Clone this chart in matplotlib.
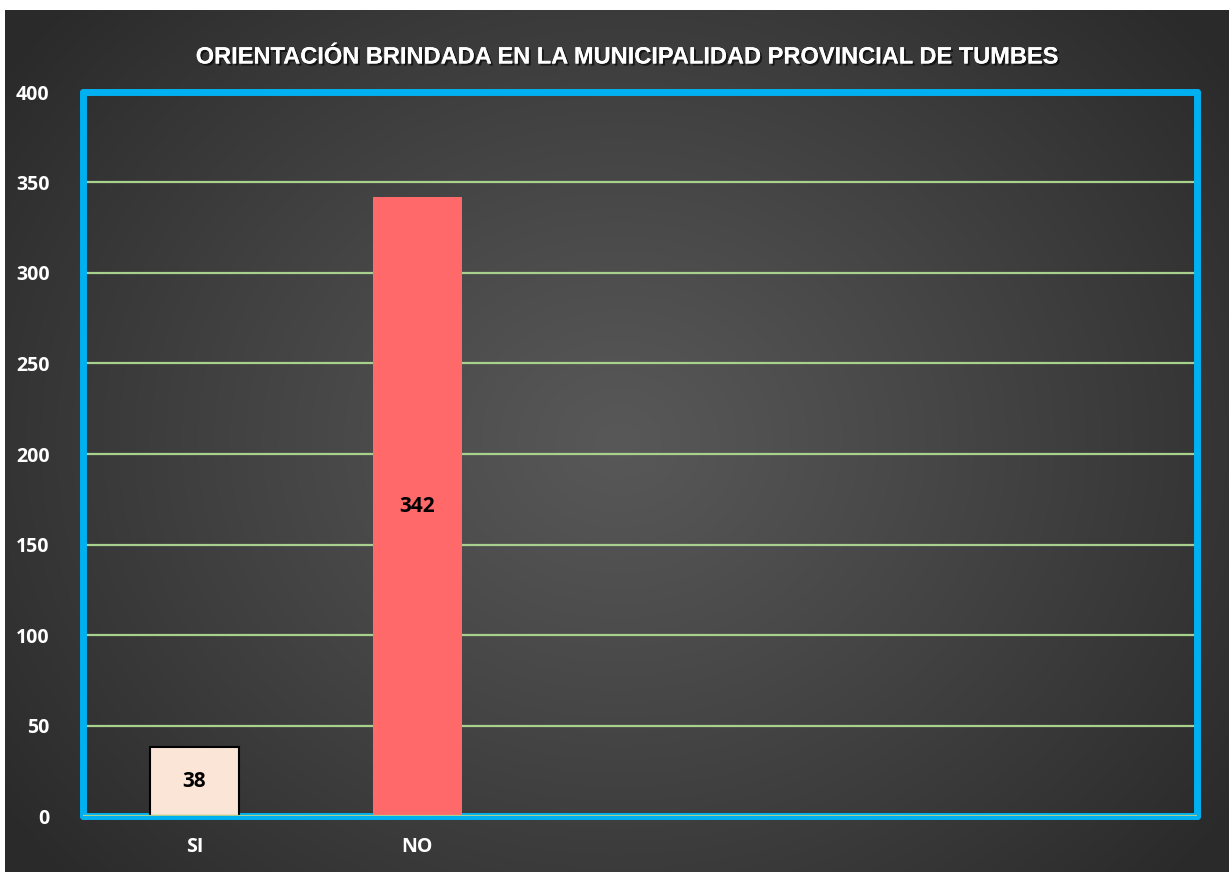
import numpy as np
import matplotlib
matplotlib.use("Agg")
import matplotlib.pyplot as plt
import matplotlib.patheffects as pe

categories = ["SI", "NO", "", "", ""]
values = [38, 342, 0, 0, 0]
bar_colors = ["#fbe5d6", "#ff6969"]
title = "ORIENTACIÓN BRINDADA EN LA MUNICIPALIDAD PROVINCIAL DE TUMBES"
yticks = [0, 50, 100, 150, 200, 250, 300, 350, 400]

W, H = 1229, 872
fig = plt.figure(figsize=(W / 100, H / 100), dpi=100)
fig.patch.set_facecolor("white")

# background with radial gradient
bg = fig.add_axes([5 / W, 0, (W - 5) / W, (H - 10) / H])
bg.set_axis_off()
ny, nx = 300, 430
yy, xx = np.mgrid[0:ny, 0:nx]
cx, cy = nx * 0.5, ny * 0.5
r = np.sqrt(((xx - cx) / (nx * 0.62)) ** 2 + ((yy - cy) / (ny * 0.75)) ** 2)
r = np.clip(r, 0, 1)
inner, outer = 0.345, 0.165
img = inner + (outer - inner) * r ** 1.1
bg.imshow(np.dstack([img, img, img]), extent=[0, 1, 0, 1], aspect="auto", interpolation="bilinear")
bg.set_xlim(0, 1)
bg.set_ylim(0, 1)

font = "Open Sans"
ax = fig.add_axes([83 / W, 1 - 816 / H, (1197 - 83) / W, (816 - 92) / H])
ax.patch.set_alpha(0)
x = np.arange(len(categories))
nvis = 2
bars = ax.bar(x[:nvis], values[:nvis], width=0.4, color=bar_colors,
              edgecolor=["black", "none"], linewidth=[1.5, 0], zorder=3)
ax.set_xlim(-0.5, len(categories) - 0.5)
ax.set_ylim(0, 400)
ax.set_yticks(yticks)
ax.yaxis.grid(True, color="#a9d18e", linewidth=1.6, zorder=1)
ax.set_axisbelow(True)
ax.tick_params(axis="both", length=0, colors="white")
ax.set_yticklabels([str(v) for v in yticks], fontsize=14, fontweight="bold",
                   family=font, color="white")
ax.set_xticks(x[:nvis])
ax.set_xticklabels(categories[:nvis], fontsize=14, fontweight="bold",
                   family=font, color="white")
ax.tick_params(axis="y", pad=24)
ax.tick_params(axis="x", pad=15)
for s in ax.spines.values():
    s.set_color("#00b0f0")
    s.set_linewidth(5)
    s.set_capstyle("round")
ax.axhline(0, color="#a9d18e", linewidth=1.6, zorder=4)

for b, v in zip(bars, values[:nvis]):
    ax.text(b.get_x() + b.get_width() / 2, v / 2, str(v), ha="center", va="center",
            fontsize=15, fontweight="bold", family=font, color="black", zorder=5)

fig.text(628 / W, 1 - 57 / H, title, ha="center", va="center", fontsize=17,
         fontweight="bold", family="Liberation Sans", color="white",
         path_effects=[pe.withSimplePatchShadow(offset=(1.5, -1.5), shadow_rgbFace="black", alpha=0.6), pe.Normal()])

fig.savefig("out.png", dpi=100)
